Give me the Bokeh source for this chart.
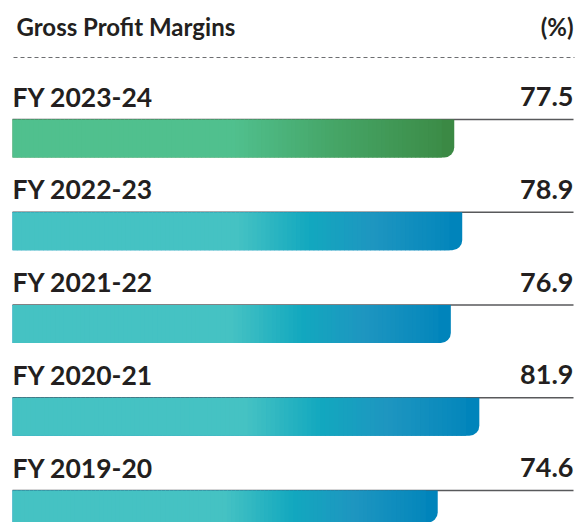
from bokeh.plotting import figure
from bokeh.models import Range1d, ColumnDataSource
from bokeh.core.properties import value
from bokeh.embed import file_html
from bokeh.resources import INLINE

# ---- data ----
years = ["FY 2023-24", "FY 2022-23", "FY 2021-22", "FY 2020-21", "FY 2019-20"]
margins = [77.5, 78.9, 76.9, 81.9, 74.6]
title_text = "Gross Profit Margins"
unit_text = "(%)"

# gradient stops (fraction of bar length, colour)
green_stops = [(0.0, (80, 192, 142)), (0.50, (80, 192, 142)), (0.72, (70, 166, 104)), (1.0, (59, 137, 68))]
blue_stops = [(0.0, (69, 194, 195)), (0.50, (69, 194, 195)), (0.66, (18, 168, 191)), (0.80, (30, 150, 192)), (1.0, (0, 132, 187))]

# ---- layout ----
W, H = 583, 522
K = 5.70      # px per percent
X0 = 12       # px position of 0
ROW = 92.75   # row pitch px
C0 = 138      # centre of first bar px from top
BAR_PX = 38

def px2x(px):
    return (px - X0) / K

def px2y(py):
    return (py - C0) / ROW

p = figure(width=W, height=H,
           x_range=Range1d(px2x(0), px2x(W)),
           y_range=Range1d(px2y(H), px2y(0)),
           output_backend="svg", toolbar_location=None, min_border=0)
p.axis.visible = False
p.grid.visible = False
p.outline_line_color = None
p.background_fill_color = "white"
p.border_fill_color = "white"

hh = BAR_PX / 2 / ROW
rows = list(range(len(years)))

def interp(stops, f):
    for (f0, c0), (f1, c1) in zip(stops[:-1], stops[1:]):
        if f0 <= f <= f1:
            t = 0 if f1 == f0 else (f - f0) / (f1 - f0)
            return "#%02x%02x%02x" % tuple(int(round(a + (b - a) * t)) for a, b in zip(c0, c1))
    return "#%02x%02x%02x" % stops[-1][1]

# gridlines at bar tops
p.segment(x0=[0] * len(rows), x1=[px2x(573)] * len(rows),
          y0=[r - hh for r in rows], y1=[r - hh for r in rows],
          line_color="#58595B", line_width=1.3)

# bars
N = 100
for r, v in zip(rows, margins):
    stops = green_stops if r == 0 else blue_stops
    end_col = interp(stops, 1.0)
    p.hbar(y=[r], left=[0], right=[v], height=2 * hh, fill_color=end_col,
           line_color=None, border_radius=(0, 0, 10, 0))
    lefts, rights, cols = [], [], []
    span = v * 0.97
    for i in range(N):
        f0 = i / N
        f1 = (i + 1) / N
        lefts.append(span * f0)
        rights.append(span * f1 + 0.15)
        cols.append(interp(stops, (f0 + f1) / 2 * 0.97))
    src = ColumnDataSource(dict(y=[r] * N, left=lefts, right=rights, c=cols))
    p.hbar(y="y", left="left", right="right", height=2 * hh, fill_color="c",
           line_color=None, source=src)

FONT = value("Lato")
# row labels and values
src_t = ColumnDataSource(dict(y=[r - hh for r in rows], x0=[0] * len(rows),
                              x1=[px2x(573)] * len(rows), lab=years,
                              val=["%.1f" % m for m in margins]))
p.text(x="x0", y="y", text="lab", source=src_t, y_offset=-23,
       text_font=FONT, text_font_style="bold", text_font_size="26.5px",
       text_color="#231F20", text_baseline="alphabetic", text_align="left")
p.text(x="x1", y="y", text="val", source=src_t, y_offset=-23,
       text_font=FONT, text_font_style="bold", text_font_size="27px",
       text_color="#231F20", text_baseline="alphabetic", text_align="right")

# header
p.text(x=[px2x(16)], y=[px2y(26)], text=[title_text], text_font=FONT,
       text_font_style="bold", text_font_size="24px", text_color="#231F20",
       text_baseline="alphabetic", text_align="left")
p.text(x=[px2x(573)], y=[px2y(26)], text=[unit_text], text_font=FONT,
       text_font_style="bold", text_font_size="24px", text_color="#231F20",
       text_baseline="alphabetic", text_align="right")
p.segment(x0=[px2x(13)], x1=[px2x(574)], y0=[px2y(57)], y1=[px2y(57)],
          line_color="#6D6E71", line_width=1, line_dash="4 3")

open("out.html", "w").write(file_html(p, INLINE))
